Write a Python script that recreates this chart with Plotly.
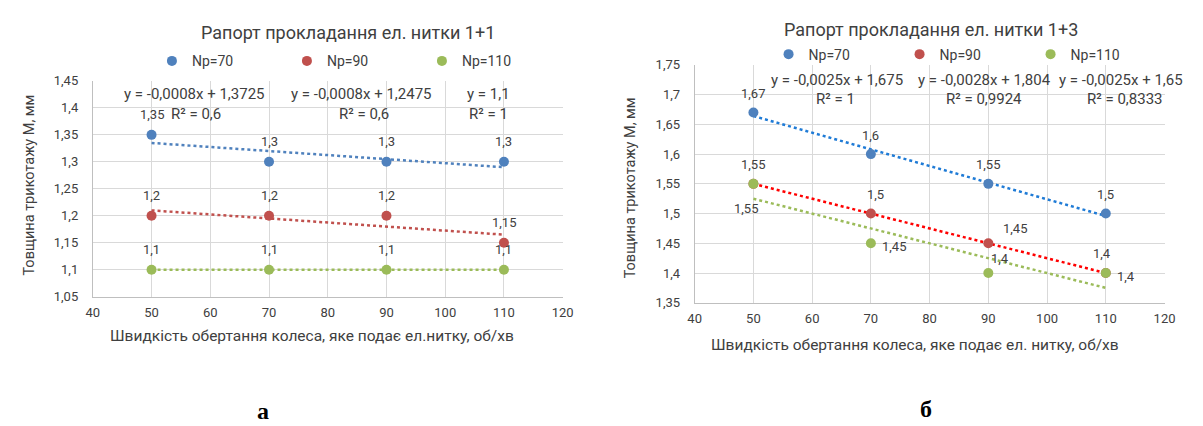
import numpy as np
import plotly.graph_objects as go

# ---------------- data ----------------
speed = [50, 70, 90, 110]
series_names = ["Np=70", "Np=90", "Np=110"]

# chart а : Рапорт 1+1
a_np70 = [1.35, 1.30, 1.30, 1.30]
a_np90 = [1.20, 1.20, 1.20, 1.15]
a_np110 = [1.10, 1.10, 1.10, 1.10]
a_eq = ["y = -0,0008x + 1,3725", "y = -0,0008x + 1,2475", "y = 1,1"]
a_r2 = ["R² = 0,6", "R² = 0,6", "R² = 1"]

# chart б : Рапорт 1+3
b_np70 = [1.67, 1.60, 1.55, 1.50]
b_np90 = [1.55, 1.50, 1.45, 1.40]
b_np110 = [1.55, 1.45, 1.40, 1.40]
b_eq = ["y = -0,0028x + 1,804", "y = -0,0025x + 1,675", "y = -0,0025x + 1,65"]
b_r2 = ["R² = 0,9924", "R² = 1", "R² = 0,8333"]

x_ticks = [40, 50, 60, 70, 80, 90, 100, 110, 120]
a_yticks = [1.05, 1.10, 1.15, 1.20, 1.25, 1.30, 1.35, 1.40, 1.45]
b_yticks = [1.35, 1.40, 1.45, 1.50, 1.55, 1.60, 1.65, 1.70, 1.75]

title_a = "Рапорт прокладання ел. нитки 1+1"
title_b = "Рапорт прокладання ел. нитки 1+3"
xtitle_a = "Швидкість обертання колеса, яке подає ел.нитку, об/хв"
xtitle_b = "Швидкість обертання колеса, яке подає ел. нитку, об/хв"
ytitle = "Товщина трикотажу М, мм"

# ---------------- style ----------------
W, H = 1203, 426
FONT = "Roboto, 'Open Sans', sans-serif"
TXT = "#404040"
marker_colors = ["#4F81BD", "#C0504D", "#9BBB59"]
trend_a = ["#4F81BD", "#C0504D", "#9BBB59"]
trend_b = ["#1F7BD6", "#FF0000", "#9BBB59"]
GRID = "#D9D9D9"

def fmt(v):
    return f"{v:g}".replace(".", ",")

fig = go.Figure()

def add_chart(xa, ya, ys, trend_colors, legend):
    for i, (name, vals) in enumerate(zip(series_names, ys)):
        k, b = np.polyfit(speed, vals, 1)
        tx = [speed[0], speed[-1]]
        fig.add_trace(go.Scatter(
            x=tx, y=[k * t + b for t in tx], mode="lines",
            line=dict(color=trend_colors[i], width=2.5, dash="dot"),
            xaxis=xa, yaxis=ya, showlegend=False, hoverinfo="skip"))
    for i, (name, vals) in enumerate(zip(series_names, ys)):
        fig.add_trace(go.Scatter(
            x=speed, y=vals, mode="markers", name=name,
            marker=dict(color=marker_colors[i], size=10),
            xaxis=xa, yaxis=ya, legend=legend))

add_chart("x", "y", [a_np70, a_np90, a_np110], trend_a, "legend")
add_chart("x2", "y2", [b_np70, b_np90, b_np110], trend_b, "legend2")

axis_common = dict(showgrid=True, gridcolor=GRID, gridwidth=1, zeroline=False,
                   showline=True, linecolor="#BFBFBF", linewidth=1, ticks="",
                   tickfont=dict(family=FONT, size=13, color=TXT))

fig.update_layout(
    width=W, height=H, margin=dict(l=0, r=0, t=0, b=0),
    paper_bgcolor="white", plot_bgcolor="white",
    font=dict(family=FONT, color=TXT),
    separators=", ",
    xaxis=dict(domain=[79 / W, 556 / W], range=[40, 120], tickvals=x_ticks,
               ticktext=[str(t) for t in x_ticks], anchor="y", ticklabelstandoff=4,
               **axis_common),
    yaxis=dict(domain=[1 - 292 / H, 1 - 68.3 / H], range=[1.05, 1.45],
               tickvals=a_yticks, ticktext=[fmt(t) for t in a_yticks],
               anchor="x", ticklabelstandoff=11, **axis_common),
    xaxis2=dict(domain=[690 / W, 1167 / W], range=[40, 120], tickvals=x_ticks,
                ticktext=[str(t) for t in x_ticks], anchor="y2", ticklabelstandoff=4,
                **axis_common),
    yaxis2=dict(domain=[1 - 298.3 / H, 1 - 51.7 / H], range=[1.35, 1.75],
                tickvals=b_yticks, ticktext=[fmt(t) for t in b_yticks],
                anchor="x2", ticklabelstandoff=11, **axis_common),
    legend=dict(orientation="h", x=139 / W, y=1 - 48 / H, xanchor="left", yanchor="middle",
                entrywidth=90, entrywidthmode="pixels", itemwidth=30,
                font=dict(family=FONT, size=14, color=TXT), bgcolor="rgba(0,0,0,0)"),
    legend2=dict(orientation="h", x=765 / W, y=1 - 41 / H, xanchor="left", yanchor="middle",
                 entrywidth=86, entrywidthmode="pixels", itemwidth=30,
                 font=dict(family=FONT, size=14, color=TXT), bgcolor="rgba(0,0,0,0)"),
    showlegend=True,
)

ann = []
def txt(x, y, s, xref="paper", yref="paper", size=13, family=FONT, color=TXT, **kw):
    ann.append(dict(x=x, y=y, xref=xref, yref=yref, text=s, showarrow=False,
                    xanchor="center", yanchor="middle",
                    font=dict(family=family, size=size, color=color), **kw))

# titles
txt(338 / W, 1 - 18 / H, title_a, size=18)
txt(930 / W, 1 - 15 / H, title_b, size=18)
# axis titles
txt(302 / W, 1 - 333 / H, xtitle_a, size=15.5)
txt(914 / W, 1 - 342 / H, xtitle_b, size=15.5)
txt(15 / W, 1 - 176 / H, ytitle, size=14.5, textangle=-90)
txt(625 / W, 1 - 179 / H, ytitle, size=14.5, textangle=-90)
# panel letters
txt(252 / W, 1 - 410 / H, "<b>а</b>", size=24, family="Liberation Serif", color="black")
txt(925 / W, 1 - 408 / H, "<b>б</b>", size=24, family="Liberation Serif", color="black")

# trendline equations (data coords)
EQ = 15
a_eq_pos = [(57.3, 1.4255, 57.5, 1.388), (85.8, 1.4255, 86.1, 1.388), (107.4, 1.4255, 107.4, 1.388)]
for (ex, ey, rx, ry), e, r in zip(a_eq_pos, a_eq, a_r2):
    txt(ex, ey, e, "x", "y", size=EQ)
    txt(rx, ry, r, "x", "y", size=EQ)
b_eq_pos = [(89.3, 1.7252, 89.3, 1.6927), (64.3, 1.7252, 64.0, 1.6927), (112.6, 1.7252, 113.3, 1.6927)]
for (ex, ey, rx, ry), e, r in zip(b_eq_pos, b_eq, b_r2):
    txt(ex, ey, e, "x2", "y2", size=EQ)
    txt(rx, ry, r, "x2", "y2", size=EQ)

# data labels
a_shift = [[(0, 20)] * 4, [(0, 20)] * 4, [(0, 20)] * 4]
for vals, shifts in zip([a_np70, a_np90, a_np110], a_shift):
    for xv, yv, (dx, dy) in zip(speed, vals, shifts):
        txt(xv, yv, fmt(yv), "x", "y", xshift=dx, yshift=dy)
b_shift = [
    [(0, 19), (0, 19), (0, 19), (0, 19)],
    [(0, 19), (5, 19), (27, 15), (-4, 20)],
    [(-7, -25), (23, -3), (12, 15), (20, -3)],
]
for vals, shifts in zip([b_np70, b_np90, b_np110], b_shift):
    for xv, yv, (dx, dy) in zip(speed, vals, shifts):
        txt(xv, yv, fmt(yv), "x2", "y2", xshift=dx, yshift=dy)

fig.update_layout(annotations=ann)
fig.write_html("out.html")
